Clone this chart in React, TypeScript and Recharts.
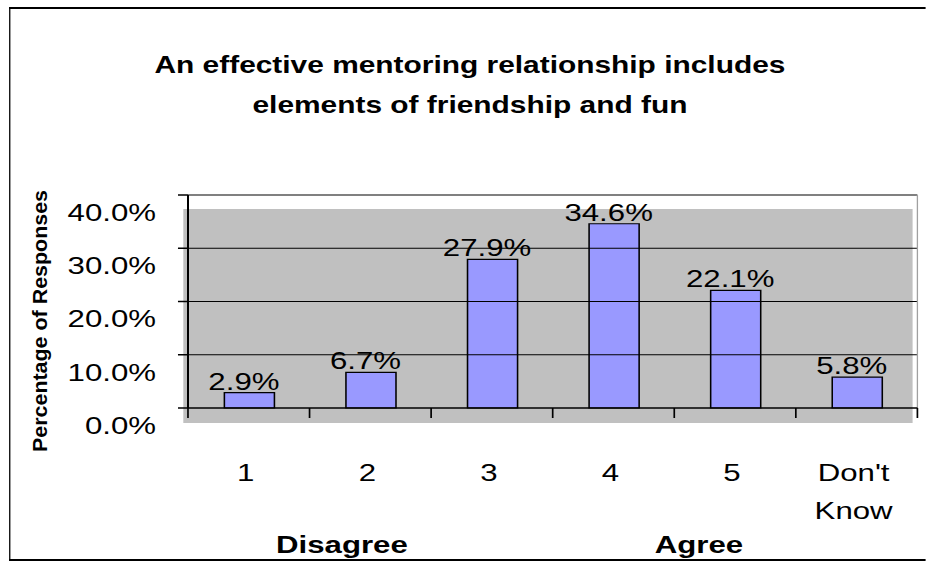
import { BarChart, Bar, XAxis, YAxis, ReferenceLine, LabelList } from 'recharts';

// survey answers, percent of responses
const categories = ['1', '2', '3', '4', '5', "Don't Know"];
const responsePct = [2.9, 6.7, 27.9, 34.6, 22.1, 5.8];
const pctTicks = [0, 10, 20, 30, 40];
const gridValues = [10, 20, 30];
const titleLines = ['An effective mentoring relationship includes', 'elements of friendship and fun'];
const yLabel = 'Percentage of Responses';
const scaleEnds = ['Disagree', 'Agree'];

const rows = categories.map((category, i) => ({ category, pct: responsePct[i] }));

// the original picture is stretched horizontally, so draw narrow and scale
const SX = 1.3;
const W = 926 / SX;
const H = 563;
const FONT = "'Liberation Sans', Arial, Helvetica, sans-serif";

const PctTick = (p: any) => (
  <text x={p.x} y={p.y + 26} textAnchor="end" fontSize={24} fontFamily={FONT} fill="#000">
    {`${Number(p.payload.value).toFixed(1)}%`}
  </text>
);

// label under the band + tick marks on the band edges (Excel style)
const CategoryTick = (p: any) => {
  const lines = String(p.payload.value).split(' ');
  const half = p.payload.offset ?? 0;
  const x = p.x - 2.3;
  const last = p.index === categories.length - 1;
  return (
    <g>
      <line x1={p.x - half} x2={p.x - half} y1={p.y} y2={p.y + 10} stroke="#000" strokeWidth={1.3} />
      {last && <line x1={p.x + half} x2={p.x + half} y1={p.y} y2={p.y + 10} stroke="#000" strokeWidth={1.3} />}
      <text x={x} y={p.y + 73} textAnchor="middle" fontSize={24} fontFamily={FONT} fill="#000">
        {lines.map((l, i) => (
          <tspan key={i} x={x} dy={i === 0 ? 0 : 38}>
            {l}
          </tspan>
        ))}
      </text>
    </g>
  );
};

const ValueLabel = (p: any) => (
  <text x={p.x + p.width / 2 - 4.2} y={p.y - 3} textAnchor="middle" fontSize={24} fontFamily={FONT} fill="#000">
    {`${Number(p.value).toFixed(1)}%`}
  </text>
);

export default function App() {
  return (
    <div
      style={{
        position: 'absolute',
        left: 0,
        top: 0,
        width: W,
        height: H,
        overflow: 'hidden',
        transform: `scaleX(${SX})`,
        transformOrigin: '0 0',
        background: '#fff',
      }}
    >
      {/* chart frame */}
      <div
        style={{
          position: 'absolute',
          left: 7,
          top: 7,
          width: W + 20,
          height: 554,
          borderTop: '2px solid #000',
          borderLeft: '1.6px solid #000',
          borderBottom: '2px solid #000',
          boxSizing: 'border-box',
        }}
      />
      {/* back wall */}
      <div style={{ position: 'absolute', left: 140.8, top: 209, width: 561.5, height: 214, background: '#C0C0C0' }} />

      <div style={{ position: 'absolute', left: 0, top: 0 }}>
        <BarChart width={W} height={H} data={rows} margin={{ top: 195, right: 6.6, bottom: 154, left: 84.6 }}>
          <XAxis
            xAxisId="cat"
            dataKey="category"
            height={1}
            interval={0}
            tickLine={false}
            axisLine={{ stroke: '#000', strokeWidth: 1.5 }}
            tickSize={0}
            tickMargin={0}
            tick={CategoryTick}
          />
          <YAxis
            type="number"
            domain={[0, 40]}
            ticks={pctTicks}
            width={60}
            tickSize={7.7}
            tickMargin={16.9}
            axisLine={{ stroke: '#000', strokeWidth: 1.5 }}
            tickLine={{ stroke: '#000', strokeWidth: 1.5 }}
            tick={PctTick}
          />
          {gridValues.map((v) => (
            <ReferenceLine key={v} xAxisId="cat" y={v} stroke="#000" strokeWidth={1.2} />
          ))}
          <ReferenceLine xAxisId="cat" y={40} stroke="#808080" strokeWidth={2} />
          <ReferenceLine xAxisId="cat" x={categories[0]} position="start" stroke="#000" strokeWidth={1.5} />
          <ReferenceLine xAxisId="cat" x={categories[categories.length - 1]} position="end" stroke="#A0A0A0" strokeWidth={1} />
          <Bar xAxisId="cat" dataKey="pct" fill="#9999FF" stroke="#000" strokeWidth={1.2} barSize={38.5} isAnimationActive={false}>
            <LabelList dataKey="pct" content={ValueLabel} />
          </Bar>
        </BarChart>
      </div>

      <svg width={W} height={H} style={{ position: 'absolute', left: 0, top: 0, pointerEvents: 'none' }}>
        {titleLines.map((t, i) => (
          <text key={t} x={361.5} y={73 + i * 40} textAnchor="middle" fontSize={23} fontWeight="bold" fontFamily={FONT} fill="#000">
            {t}
          </text>
        ))}
        <text
          transform="translate(35.9,321) rotate(-90)"
          textAnchor="middle"
          fontSize={16}
          fontWeight="bold"
          fontFamily={FONT}
          textLength={262}
          lengthAdjust="spacingAndGlyphs"
          fill="#000"
        >
          {yLabel}
        </text>
        <text x={263} y={553} textAnchor="middle" fontSize={24} fontWeight="bold" fontFamily={FONT} fill="#000">
          {scaleEnds[0]}
        </text>
        <text x={537.7} y={553} textAnchor="middle" fontSize={24} fontWeight="bold" fontFamily={FONT} fill="#000">
          {scaleEnds[1]}
        </text>
      </svg>
    </div>
  );
}
